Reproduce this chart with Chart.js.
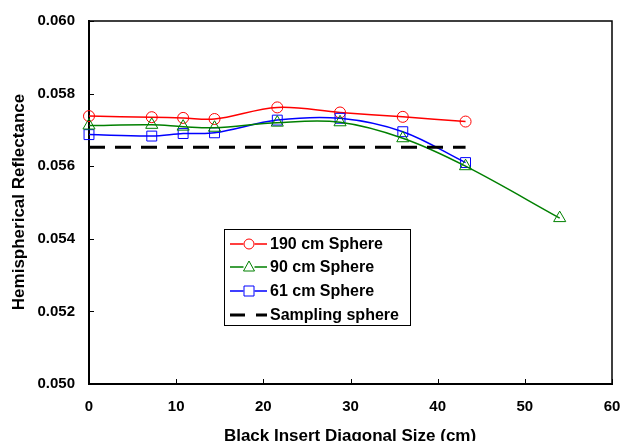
<!DOCTYPE html>
<html>
<head>
<meta charset="utf-8">
<script src="https://cdn.jsdelivr.net/npm/chart.js@4.4.1/dist/chart.umd.min.js"></script>
<style>
    html, body { margin: 0; padding: 0; background: #fff; }
    #chart { display: block; }
</style>
</head>
<body>
<canvas id="chart" width="622" height="441"></canvas>
<script>
// 데이터
const insertSizes = [0, 7.2, 10.8, 14.4, 21.6, 28.8, 36, 43.2, 54];
const sphere190 = [0.05738, 0.05735, 0.05733, 0.05730, 0.05762, 0.05748, 0.05736, 0.05723];
const sphere90 = [0.05712, 0.05714, 0.05709, 0.05706, 0.05720, 0.05721, 0.05677, 0.05600, 0.05457];
const sphere61 = [0.05687, 0.05683, 0.05690, 0.05692, 0.05727, 0.05732, 0.05695, 0.05610];
const samplingX = [0, 43.2];
const samplingY = [0.05652, 0.05652];
const xTicks = [0, 10, 20, 30, 40, 50, 60];
const yTicks = [0.050, 0.052, 0.054, 0.056, 0.058, 0.060];

const FONT = '"Liberation Sans", Arial, sans-serif';

function toPoints(xs, ys) {
    return ys.map((y, i) => ({x: xs[i], y: y}));
}

// 범례 항목
const legendItems = [
    {label: '190 cm Sphere', color: '#ff0000', marker: 'circle'},
    {label: '90 cm Sphere', color: '#008000', marker: 'triangle'},
    {label: '61 cm Sphere', color: '#0000ff', marker: 'rect'},
    {label: 'Sampling sphere', color: '#000000', marker: 'dash'}
];

function drawMarker(ctx, type, x, y, color) {
    ctx.save();
    ctx.strokeStyle = color;
    ctx.lineWidth = 1;
    ctx.beginPath();
    if (type === 'circle') {
        ctx.arc(x, y, 5, 0, Math.PI * 2);
    } else if (type === 'triangle') {
        ctx.moveTo(x, y - 6);
        ctx.lineTo(x + 5.5, y + 4);
        ctx.lineTo(x - 5.5, y + 4);
        ctx.closePath();
    } else if (type === 'rect') {
        ctx.rect(x - 5, y - 5, 10, 10);
    }
    ctx.stroke();
    ctx.restore();
}

// 테두리, 눈금, 축 제목, 범례 그리기
const decorPlugin = {
    id: 'decor',
    afterDraw(chart) {
        const ctx = chart.ctx;
        const a = chart.chartArea;
        const xs = chart.scales.x;
        const ys = chart.scales.y;
        ctx.save();
        ctx.strokeStyle = '#000';
        ctx.lineWidth = 1.5;
        ctx.beginPath();
        ctx.moveTo(a.left, a.top);
        ctx.lineTo(a.right, a.top);
        ctx.lineTo(a.right, a.bottom);
        ctx.stroke();

        // 안쪽 눈금
        ctx.lineWidth = 1;
        ctx.beginPath();
        xTicks.forEach(v => {
            const px = Math.round(xs.getPixelForValue(v)) + 0.5;
            ctx.moveTo(px, a.bottom);
            ctx.lineTo(px, a.bottom - 5);
        });
        yTicks.forEach(v => {
            const py = Math.round(ys.getPixelForValue(v)) + 0.5;
            ctx.moveTo(a.left, py);
            ctx.lineTo(a.left + 5, py);
        });
        ctx.stroke();

        // 축 제목
        ctx.fillStyle = '#000';
        ctx.font = 'bold 17px ' + FONT;
        ctx.textAlign = 'center';
        ctx.textBaseline = 'alphabetic';
        ctx.fillText('Black Insert Diagonal Size (cm)', 350, 441);
        ctx.save();
        ctx.translate(19, 202);
        ctx.rotate(-Math.PI / 2);
        ctx.textBaseline = 'middle';
        ctx.fillText('Hemispherical Reflectance', 0, 0);
        ctx.restore();

        // 범례
        ctx.textBaseline = 'middle';
        ctx.fillStyle = '#fff';
        ctx.fillRect(224, 229, 186, 96);
        ctx.strokeStyle = '#000';
        ctx.lineWidth = 1;
        ctx.strokeRect(224.5, 229.5, 186, 96);
        const rows = [244, 267, 291, 315];
        legendItems.forEach((item, i) => {
            const y = rows[i];
            ctx.strokeStyle = item.color;
            if (item.marker === 'dash') {
                ctx.lineWidth = 3;
                ctx.beginPath();
                ctx.moveTo(230, y);
                ctx.lineTo(245, y);
                ctx.moveTo(256, y);
                ctx.lineTo(267, y);
                ctx.stroke();
            } else {
                ctx.lineWidth = 1.5;
                ctx.beginPath();
                ctx.moveTo(230, y);
                ctx.lineTo(243.5, y);
                ctx.moveTo(254.5, y);
                ctx.lineTo(267, y);
                ctx.stroke();
                drawMarker(ctx, item.marker, 249, y, item.color);
            }
            ctx.fillStyle = '#000';
            ctx.textAlign = 'left';
            ctx.font = 'bold 16px ' + FONT;
            ctx.fillText(item.label, 270, y + 1);
        });
        ctx.restore();
    }
};

function seriesDataset(label, ys, color, style) {
    return {
        label: label,
        data: toPoints(insertSizes, ys),
        borderColor: color,
        borderWidth: 1.5,
        backgroundColor: 'transparent',
        pointStyle: style,
        pointRadius: style === 'circle' ? 5.5 : 7,
        pointBorderWidth: 1,
        pointBorderColor: color,
        pointBackgroundColor: 'transparent',
        tension: 0.35,
        clip: false
    };
}

const ctx = document.getElementById('chart');
new Chart(ctx, {
    type: 'line',
    data: {
        datasets: [
            {
                label: 'Sampling sphere',
                data: toPoints(samplingX, samplingY),
                borderColor: '#000',
                borderWidth: 3,
                borderDash: [16, 10],
                pointRadius: 0,
                tension: 0,
                clip: false
            },
            seriesDataset('90 cm Sphere', sphere90, '#008000', 'triangle'),
            seriesDataset('61 cm Sphere', sphere61, '#0000ff', 'rect'),
            seriesDataset('190 cm Sphere', sphere190, '#ff0000', 'circle')
        ]
    },
    options: {
        responsive: false,
        animation: false,
        devicePixelRatio: 1,
        layout: {padding: {top: 21, right: 0, left: 0, bottom: 0}},
        plugins: {
            legend: {display: false},
            tooltip: {enabled: false}
        },
        scales: {
            x: {
                type: 'linear',
                min: 0,
                max: 60,
                afterBuildTicks: function (scale) {
                    scale.ticks = xTicks.map(v => ({value: v}));
                },
                afterFit: function (scale) {
                    scale.height = 57;
                    scale.paddingLeft = 0;
                    scale.paddingRight = 10;
                },
                grid: {display: false, drawTicks: false},
                border: {display: true, color: '#000', width: 2},
                ticks: {
                    color: '#000',
                    padding: 14,
                    maxRotation: 0,
                    autoSkip: false,
                    font: {family: FONT, size: 15, weight: 'bold'},
                    callback: v => String(v)
                }
            },
            y: {
                min: 0.050,
                max: 0.060,
                afterBuildTicks: function (scale) {
                    scale.ticks = yTicks.map(v => ({value: v}));
                },
                afterFit: function (scale) {
                    scale.width = 89;
                    scale.paddingTop = 0;
                    scale.paddingBottom = 0;
                },
                grid: {display: false, drawTicks: false},
                border: {display: true, color: '#000', width: 2},
                ticks: {
                    color: '#000',
                    padding: 14,
                    autoSkip: false,
                    font: {family: FONT, size: 15, weight: 'bold'},
                    callback: v => v.toFixed(3)
                }
            }
        }
    },
    plugins: [decorPlugin]
});
</script>
</body>
</html>
